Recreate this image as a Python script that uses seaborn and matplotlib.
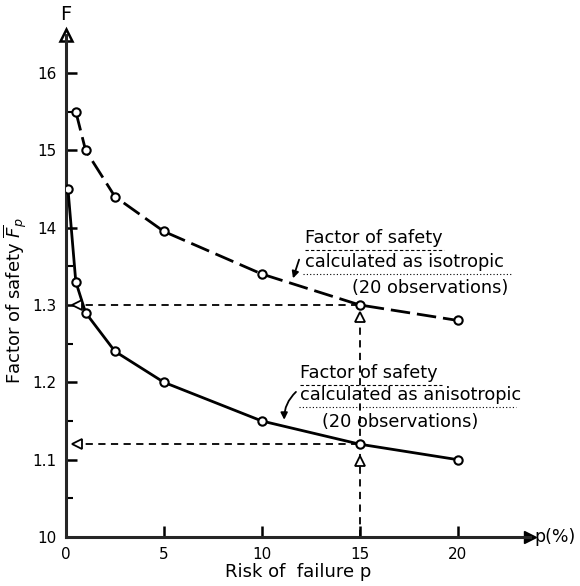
import matplotlib
matplotlib.use("Agg")
import matplotlib.pyplot as plt
import seaborn as sns
import pandas as pd

# ---- data ----
p_iso = [0.5, 1, 2.5, 5, 10, 15, 20]
f_iso = [1.55, 1.50, 1.44, 1.395, 1.34, 1.30, 1.28]

p_aniso = [0.1, 0.5, 1, 2.5, 5, 10, 15, 20]
f_aniso = [1.45, 1.33, 1.29, 1.24, 1.20, 1.15, 1.12, 1.10]

x_ticks = [0, 5, 10, 15, 20]
x_ticklabels = ["0", "5", "10", "15", "20"]
y_ticks = [1.0, 1.1, 1.2, 1.3, 1.4, 1.5, 1.6]
y_ticklabels = ["10", "1.1", "1.2", "1.3", "14", "15", "16"]
y_minor = [1.05, 1.15, 1.25, 1.35, 1.45, 1.55]

p_ref = 15
iso_ref = f_iso[p_iso.index(p_ref)]
aniso_ref = f_aniso[p_aniso.index(p_ref)]

sns.set_style("white")
plt.rcParams["font.family"] = ["DejaVu Sans"]
plt.rcParams.update({"text.color": "black", "axes.labelcolor": "black",
                     "xtick.color": "black", "ytick.color": "black"})

fig = plt.figure(figsize=(5.8, 5.86), dpi=100)
ax = fig.add_axes([0.1138, 0.0836, 0.80, 0.8567])

df_iso = pd.DataFrame({"p": p_iso, "F": f_iso})
df_an = pd.DataFrame({"p": p_aniso, "F": f_aniso})

mk = dict(marker="o", markersize=6, markerfacecolor="white",
          markeredgecolor="black", markeredgewidth=1.5)
sns.lineplot(data=df_iso, x="p", y="F", ax=ax, color="black", lw=2.0,
             linestyle=(0, (7, 2.5)), zorder=3, **mk)
sns.lineplot(data=df_an, x="p", y="F", ax=ax, color="black", lw=2.0,
             zorder=3, **mk)

ax.set_xlim(0, 23.7)
ax.set_ylim(1.0, 1.649)

# reference dashed lines
ref = dict(color="black", lw=1.3, linestyle=(0, (4, 3)), zorder=2)
ax.plot([0.35, p_ref], [iso_ref, iso_ref], **ref)
ax.plot([0.35, p_ref], [aniso_ref, aniso_ref], **ref)
ax.plot([p_ref, p_ref], [1.0, iso_ref], **ref)
head = dict(markersize=6.5, markerfacecolor="white", markeredgecolor="black",
            markeredgewidth=1.3, zorder=4, clip_on=False, linestyle="none")
ax.plot([0.55], [iso_ref], marker="<", **head)
ax.plot([0.55], [aniso_ref], marker="<", **head)
ax.plot([p_ref], [aniso_ref - 0.022], marker="^", **head)
ax.plot([p_ref], [iso_ref - 0.015], marker="^", **head)

# spines and arrows
for s in ["top", "right"]:
    ax.spines[s].set_visible(False)
for s in ["left", "bottom"]:
    ax.spines[s].set_linewidth(2.2)
ax.plot([0], [1], marker="^", transform=ax.transAxes, clip_on=False,
        color="black", markersize=8, markerfacecolor="white", markeredgewidth=1.8)
ax.plot([1], [0], marker=">", transform=ax.transAxes, clip_on=False,
        color="black", markersize=9)

ax.set_xticks(x_ticks)
ax.set_xticklabels(x_ticklabels)
ax.set_yticks(y_ticks)
ax.set_yticklabels(y_ticklabels)
ax.set_yticks(y_minor, minor=True)
ax.tick_params(axis="both", which="major", direction="in", length=8, width=1.8,
               labelsize=11, pad=7, left=True, bottom=True)
ax.tick_params(axis="y", which="minor", direction="in", length=5, width=1.5, left=True)

ax.set_xlabel("Risk of  failure p", fontsize=13, labelpad=1)
ax.set_ylabel(r"Factor of safety $\overline{F}_p$", fontsize=13)
ax.yaxis.set_label_coords(-0.08, 0.47)

ax.text(0, 1.022, "F", transform=ax.transAxes, ha="center", va="bottom",
        fontsize=14)
ax.text(1.01, 0, "p(%)", transform=ax.transAxes, ha="left", va="center",
        fontsize=12.5)

# annotations
fs = 12.8
ax.text(12.19, 1.387, "Factor of safety", fontsize=fs, ha="left", va="center")
ax.text(12.19, 1.356, "calculated as isotropic", fontsize=fs, ha="left", va="center")
ax.text(14.6, 1.322, "(20 observations)", fontsize=fs, ha="left", va="center")
ax.plot([12.2, 19.3], [1.371, 1.371], color="black", lw=0.8, linestyle=(0, (3, 2)))
ax.plot([12.1, 22.8], [1.340, 1.340], color="black", lw=0.8, linestyle=(0, (1, 2)))
ax.annotate("", xy=(11.55, 1.331), xytext=(11.95, 1.362),
            arrowprops=dict(arrowstyle="-|>", color="black", lw=1.3,
                            mutation_scale=10))

ax.text(11.94, 1.212, "Factor of safety", fontsize=fs, ha="left", va="center")
ax.text(11.94, 1.184, "calculated as anisotropic", fontsize=fs, ha="left", va="center")
ax.text(13.1, 1.149, "(20 observations)", fontsize=fs, ha="left", va="center")
ax.plot([11.95, 19.2], [1.196, 1.196], color="black", lw=0.8, linestyle=(0, (3, 2)))
ax.plot([11.9, 23.0], [1.168, 1.168], color="black", lw=0.8, linestyle=(0, (1, 2)))
ax.annotate("", xy=(11.15, 1.148), xytext=(11.85, 1.19),
            arrowprops=dict(arrowstyle="-|>", color="black", lw=1.3,
                            mutation_scale=10,
                            connectionstyle="arc3,rad=0.25"))

fig.savefig("out.png", dpi=100)
